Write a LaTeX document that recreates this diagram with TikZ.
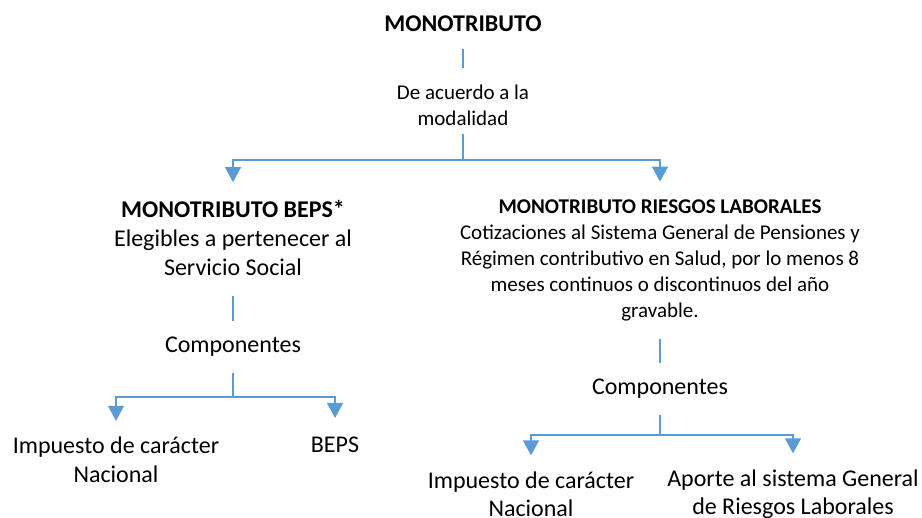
\documentclass[tikz,border=0pt]{standalone}
\usepackage{fontspec}
\setmainfont{Carlito}
\usetikzlibrary{arrows.meta}
\definecolor{linkblue}{RGB}{91,155,213}
\tikzset{
  bigtext/.style={font=\fontsize{24}{29}\selectfont, align=center, inner sep=0pt},
  smalltext/.style={font=\fontsize{21}{26}\selectfont, align=center, inner sep=0pt},
  link/.style={draw=linkblue, line width=1.3pt},
  tiplink/.style={link, -{Triangle[width=16pt,length=15pt]}}
}

\begin{document}
\begin{tikzpicture}[x=1pt,y=-1pt]
  \useasboundingbox (0,0) rectangle (922,518);

  % Top
  \node[bigtext, font=\bfseries\fontsize{24}{29}\selectfont] (mono) at (463,24) {MONOTRIBUTO};
  \node[smalltext] (modo) at (463,105) {De acuerdo a la\\modalidad};
  \coordinate (split) at (463,160);

  % Monotributo BEPS
  \node[bigtext] (beps) at (233,238) {\textbf{MONOTRIBUTO BEPS*}\\Elegibles a pertenecer al\\Servicio Social};
  \node[bigtext] (compa) at (233,347) {Componentes};
  \coordinate (splita) at (233,397);
  \node[bigtext] (impa) at (116,460) {Impuesto de carácter\\Nacional};
  \node[bigtext] (bepsleaf) at (335,445) {BEPS};

  % Monotributo riesgos laborales
  \node[smalltext] (riesgos) at (660,260.5) {\textbf{MONOTRIBUTO RIESGOS LABORALES}\\Cotizaciones al Sistema General de Pensiones y\\Régimen contributivo en Salud, por lo menos 8\\meses continuos o discontinuos del año\\gravable.};
  \node[bigtext] (compb) at (660,389) {Componentes};
  \coordinate (splitb) at (660,435);
  \node[bigtext, font=\fontsize{24}{28}\selectfont] (impb) at (531,494) {Impuesto de carácter\\Nacional};
  \node[bigtext, font=\fontsize{24}{28}\selectfont] (aporte) at (793,494) {Aporte al sistema General\\de Riesgos Laborales};

  % Connectors
  \draw[link, shorten <=17pt, shorten >=16pt] (mono) -- (modo);
  \draw[link, shorten <=8pt] (modo) -- (split);
  \draw[tiplink, shorten >=18pt] (split) -| (beps);
  \draw[tiplink, shorten >=18pt] (split) -| (riesgos);

  \draw[link, shorten <=20pt, shorten >=16pt] (beps) -- (compa);
  \draw[link, shorten <=16pt] (compa) -- (splita);
  \draw[tiplink, shorten >=16pt] (splita) -| (impa);
  \draw[tiplink, shorten >=19pt] (splita) -| (bepsleaf);

  \draw[link, shorten <=18pt, shorten >=16pt] (riesgos) -- (compb);
  \draw[link, shorten <=16pt] (compb) -- (splitb);
  \draw[tiplink, shorten >=16pt] (splitb) -| (impb);
  \draw[tiplink, shorten >=16pt] (splitb) -| (aporte);
\end{tikzpicture}
\end{document}
